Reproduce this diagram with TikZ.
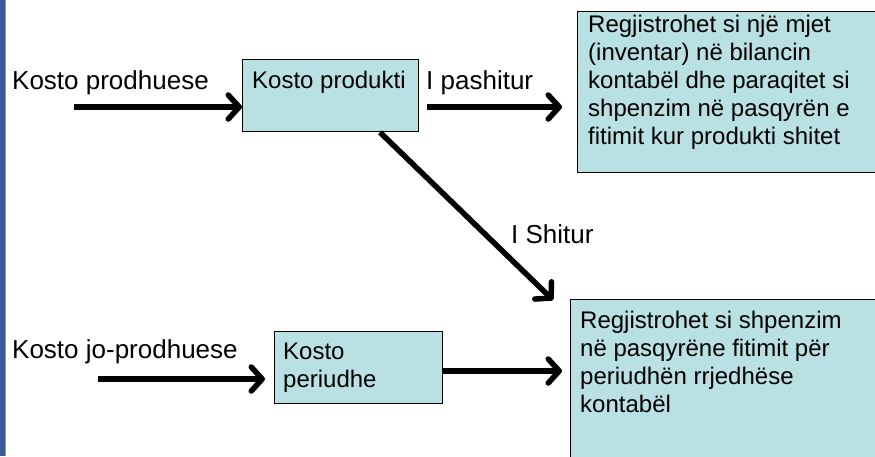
\documentclass[tikz,border=0pt]{standalone}
\usepackage{fontspec}
\setmainfont{Liberation Sans}
\usetikzlibrary{arrows.meta}
\definecolor{boxfill}{HTML}{B9E0E3}
\definecolor{sidebar}{HTML}{3A5A93}
\newcommand{\toplines}[1]{\begin{tabular}[t]{@{}l@{}}#1\end{tabular}}
\begin{document}
\begin{tikzpicture}[x=1pt,y=-1pt,
  box/.style={draw=black,line width=1.3pt,fill=boxfill,anchor=north west,inner sep=0pt},
  lbl/.style={anchor=base west,inner sep=0pt,font=\fontsize{26}{30}\selectfont},
  btxt/.style={anchor=base west,inner sep=0pt,font=\fontsize{24}{28}\selectfont},
  arr/.style={line width=5.5pt,-{Straight Barb[length=11pt,width=24pt,line cap=round,line join=round]}}]
\useasboundingbox (0,0) rectangle (875,456);
\fill[white] (0,0) rectangle (875,456);
\fill[sidebar] (0,0) rectangle (4.5,456);
\fill[sidebar!60] (4.5,0) rectangle (5.5,456);
% boxes
\node[box,minimum width=176pt,minimum height=72pt] (kp) at (242,59) {};
\node[box,minimum width=298pt,minimum height=161pt] (tr) at (577,11) {};
\node[box,minimum width=168pt,minimum height=72pt] (kper) at (274,331) {};
\node[box,minimum width=310pt,minimum height=170pt] (br) at (570,299) {};
% texts
\node[lbl] (t1) at (12,89) {Kosto prodhuese};
\node[btxt] (t2) at (252,88) {Kosto produkti};
\node[lbl] (t3) at (426,89) {I pashitur};
\node[btxt] (t4) at (588,32) {\toplines{Regjistrohet si një mjet\\(inventar) në bilancin\\kontabël dhe paraqitet si\\shpenzim në pasqyrën e\\fitimit kur produkti shitet}};
\node[lbl] (t5) at (511,243) {I Shitur};
\node[lbl] (t6) at (12,358) {Kosto jo-prodhuese};
\node[btxt] (t7) at (283,359) {\toplines{Kosto\\periudhe}};
\node[btxt] (t8) at (580,328) {\toplines{Regjistrohet si shpenzim\\në pasqyrëne fitimit për\\periudhën rrjedhëse\\kontabël}};
% connectors
\coordinate (s1) at (74,107);
\draw[arr] (s1) -- (s1 -| kp.west);
\coordinate (s2) at ([xshift=8pt]kp.east |- s1);
\draw[arr] (s2) -- ([xshift=-15pt]tr.west |- s1);
\coordinate (s3) at (380,131);
\draw[arr] (s3 |- kp.south) -- ([xshift=-17pt,yshift=-1pt]br.north west);
\coordinate (s4) at (98,379);
\draw[arr] (s4) -- ([xshift=-9pt]kper.west |- s4);
\coordinate (s5) at (0,371);
\draw[arr] (kper.east |- s5) -- ([xshift=-8pt]br.west |- s5);
\end{tikzpicture}
\end{document}
